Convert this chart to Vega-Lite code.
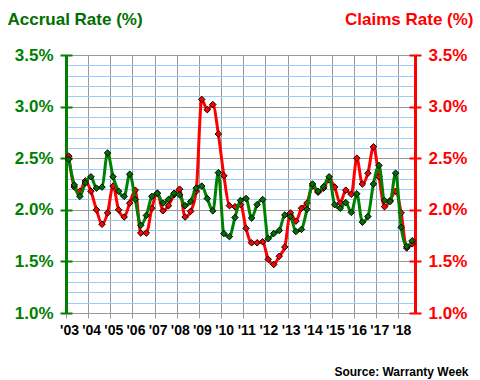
{
  "$schema": "https://vega.github.io/schema/vega-lite/v6.json",
  "width": 349,
  "height": 258,
  "autosize": {"type": "none"},
  "padding": {"left": 66, "top": 55, "right": 65, "bottom": 67},
  "background": "white",
  "config": {"view": {"stroke": null}, "font": "Liberation Sans"},
  "data": {"values": [
    {"t": 2003.125, "accrual": 2.49, "claims": 2.52},
    {"t": 2003.375, "accrual": 2.24, "claims": 2.22},
    {"t": 2003.625, "accrual": 2.13, "claims": 2.18},
    {"t": 2003.875, "accrual": 2.26, "claims": 2.28},
    {"t": 2004.125, "accrual": 2.32, "claims": 2.18},
    {"t": 2004.375, "accrual": 2.21, "claims": 2.00},
    {"t": 2004.625, "accrual": 2.22, "claims": 1.86},
    {"t": 2004.875, "accrual": 2.55, "claims": 1.97},
    {"t": 2005.125, "accrual": 2.32, "claims": 2.23},
    {"t": 2005.375, "accrual": 2.18, "claims": 2.00},
    {"t": 2005.625, "accrual": 2.13, "claims": 1.93},
    {"t": 2005.875, "accrual": 2.345, "claims": 2.065},
    {"t": 2006.125, "accrual": 2.10, "claims": 2.19},
    {"t": 2006.375, "accrual": 1.85, "claims": 1.775},
    {"t": 2006.625, "accrual": 1.945, "claims": 1.775},
    {"t": 2006.875, "accrual": 2.13, "claims": 2.015},
    {"t": 2007.125, "accrual": 2.16, "claims": 2.16},
    {"t": 2007.375, "accrual": 2.065, "claims": 1.99},
    {"t": 2007.625, "accrual": 2.10, "claims": 2.04},
    {"t": 2007.875, "accrual": 2.16, "claims": 2.145},
    {"t": 2008.125, "accrual": 2.145, "claims": 2.20},
    {"t": 2008.375, "accrual": 2.04, "claims": 1.93},
    {"t": 2008.625, "accrual": 2.08, "claims": 1.985},
    {"t": 2008.875, "accrual": 2.21, "claims": 2.18},
    {"t": 2009.125, "accrual": 2.23, "claims": 3.07},
    {"t": 2009.375, "accrual": 2.11, "claims": 2.97},
    {"t": 2009.625, "accrual": 1.99, "claims": 3.02},
    {"t": 2009.875, "accrual": 2.36, "claims": 2.735},
    {"t": 2010.125, "accrual": 1.77, "claims": 2.33},
    {"t": 2010.375, "accrual": 1.74, "claims": 2.04},
    {"t": 2010.625, "accrual": 1.925, "claims": 2.03},
    {"t": 2010.875, "accrual": 2.09, "claims": 2.05},
    {"t": 2011.125, "accrual": 2.11, "claims": 1.82},
    {"t": 2011.375, "accrual": 1.92, "claims": 1.68},
    {"t": 2011.625, "accrual": 2.05, "claims": 1.68},
    {"t": 2011.875, "accrual": 2.10, "claims": 1.69},
    {"t": 2012.125, "accrual": 1.72, "claims": 1.52},
    {"t": 2012.375, "accrual": 1.77, "claims": 1.47},
    {"t": 2012.625, "accrual": 1.80, "claims": 1.55},
    {"t": 2012.875, "accrual": 1.95, "claims": 1.64},
    {"t": 2013.125, "accrual": 1.935, "claims": 1.97},
    {"t": 2013.375, "accrual": 1.79, "claims": 1.89},
    {"t": 2013.625, "accrual": 1.81, "claims": 2.015},
    {"t": 2013.875, "accrual": 2.005, "claims": 2.065},
    {"t": 2014.125, "accrual": 2.25, "claims": 2.23},
    {"t": 2014.375, "accrual": 2.18, "claims": 2.17},
    {"t": 2014.625, "accrual": 2.225, "claims": 2.21},
    {"t": 2014.875, "accrual": 2.32, "claims": 2.29},
    {"t": 2015.125, "accrual": 2.05, "claims": 2.22},
    {"t": 2015.375, "accrual": 2.015, "claims": 2.065},
    {"t": 2015.625, "accrual": 2.07, "claims": 2.19},
    {"t": 2015.875, "accrual": 1.975, "claims": 2.15},
    {"t": 2016.125, "accrual": 2.155, "claims": 2.50},
    {"t": 2016.375, "accrual": 1.88, "claims": 2.25},
    {"t": 2016.625, "accrual": 1.935, "claims": 2.355},
    {"t": 2016.875, "accrual": 2.25, "claims": 2.61},
    {"t": 2017.125, "accrual": 2.43, "claims": 2.32},
    {"t": 2017.375, "accrual": 2.09, "claims": 2.03},
    {"t": 2017.625, "accrual": 2.08, "claims": 2.09},
    {"t": 2017.875, "accrual": 2.355, "claims": 2.18},
    {"t": 2018.125, "accrual": 1.83, "claims": 1.97},
    {"t": 2018.375, "accrual": 1.645, "claims": 1.63},
    {"t": 2018.625, "accrual": 1.70, "claims": 1.67}
  ]},
  "encoding": {
    "x": {
      "field": "t", "type": "quantitative",
      "scale": {"domain": [2003, 2018.75], "nice": false, "zero": false},
      "axis": {
        "values": [2003, 2004, 2005, 2006, 2007, 2008, 2009, 2010, 2011, 2012, 2013, 2014, 2015, 2016, 2017, 2018],
        "format": "d",
        "labelExpr": "\"'\" + substring(datum.label, 2)",
        "domain": false,
        "grid": true, "gridColor": "#999999", "gridWidth": 1,
        "ticks": true, "tickColor": "#999999", "tickSize": 5, "tickWidth": 1,
        "labelFont": "Liberation Sans", "labelFontSize": 14, "labelFontWeight": "bold", "labelColor": "black",
        "labelPadding": 5, "labelOffset": 3, "labelFlush": false, "labelOverlap": false,
        "title": "Source: Warranty Week",
        "titleX": 402, "titleY": 62, "titleAlign": "right", "titleBaseline": "alphabetic",
        "titleFont": "Liberation Sans", "titleFontSize": 12, "titleFontWeight": "bold", "titleColor": "black"
      }
    }
  },
  "layer": [
    {
      "mark": {"type": "line", "opacity": 0},
      "encoding": {
        "y": {
          "field": "claims", "type": "quantitative",
          "scale": {"domain": [1, 3.5], "nice": false, "zero": false},
          "axis": {
            "orient": "right", "offset": -6,
            "values": [1, 1.5, 2, 2.5, 3, 3.5],
            "labels": false, "grid": false, "domain": false,
            "ticks": true, "tickColor": "#FF0000", "tickSize": 6, "tickWidth": 2,
            "title": null
          }
        }
      }
    },
    {
      "mark": {"type": "line", "opacity": 0},
      "encoding": {
        "y": {
          "field": "accrual", "type": "quantitative",
          "scale": {"domain": [1, 3.5], "nice": false, "zero": false},
          "axis": {
            "orient": "left", "offset": -6,
            "values": [1, 1.5, 2, 2.5, 3, 3.5],
            "labels": false, "grid": false, "domain": false,
            "ticks": true, "tickColor": "#008000", "tickSize": 6, "tickWidth": 2,
            "title": null
          }
        }
      }
    },
    {
      "mark": {"type": "line", "color": "#FF0000", "strokeWidth": 3, "interpolate": "monotone",
        "point": {"shape": "diamond", "filled": true, "fill": "#FF0000", "stroke": "black", "strokeWidth": 1, "size": 42}},
      "encoding": {
        "y": {
          "field": "claims", "type": "quantitative",
          "scale": {"domain": [1, 3.5], "nice": false, "zero": false},
          "axis": {
            "orient": "right",
            "values": [1, 1.5, 2, 2.5, 3, 3.5],
            "labelExpr": "format(datum.value, '.1f') + '%'",
            "grid": false,
            "domain": true, "domainColor": "#FF0000", "domainWidth": 3,
            "ticks": true, "tickColor": "#FF0000", "tickSize": 6, "tickWidth": 2,
            "labelFont": "Liberation Sans", "labelFontSize": 17, "labelFontWeight": "bold", "labelColor": "#FF0000",
            "labelPadding": 7,
            "title": "Claims Rate (%)",
            "titleAngle": 0, "titleX": 58, "titleY": -31, "titleAlign": "right", "titleBaseline": "alphabetic",
            "titleFont": "Liberation Sans", "titleFontSize": 17, "titleFontWeight": "bold", "titleColor": "#FF0000"
          }
        }
      }
    },
    {
      "mark": {"type": "line", "color": "#008000", "strokeWidth": 3, "interpolate": "monotone",
        "point": {"shape": "diamond", "filled": true, "fill": "#007000", "stroke": "black", "strokeWidth": 1, "size": 42}},
      "encoding": {
        "y": {
          "field": "accrual", "type": "quantitative",
          "scale": {"domain": [1, 3.5], "nice": false, "zero": false},
          "axis": {
            "orient": "left",
            "values": [1, 1.1, 1.2, 1.3, 1.4, 1.5, 1.6, 1.7, 1.8, 1.9, 2, 2.1, 2.2, 2.3, 2.4, 2.5, 2.6, 2.7, 2.8, 2.9, 3, 3.1, 3.2, 3.3, 3.4, 3.5],
            "labelExpr": "abs(datum.value * 2 - round(datum.value * 2)) < 0.001 ? format(datum.value, '.1f') + '%' : ''",
            "grid": true,
            "gridColor": {"condition": {"test": "abs(datum.value * 2 - round(datum.value * 2)) < 0.001", "value": "#999999"}, "value": "#99CCFF"},
            "gridWidth": 1,
            "domain": true, "domainColor": "#008000", "domainWidth": 3,
            "ticks": true, "tickColor": "#008000", "tickSize": 6, "tickWidth": 2,
            "tickOpacity": {"condition": {"test": "abs(datum.value * 2 - round(datum.value * 2)) < 0.001", "value": 1}, "value": 0},
            "labelFont": "Liberation Sans", "labelFontSize": 17, "labelFontWeight": "bold", "labelColor": "#008000",
            "labelPadding": 7, "labelOverlap": false,
            "title": "Accrual Rate (%)",
            "titleAngle": 0, "titleX": -59, "titleY": -31, "titleAlign": "left", "titleBaseline": "alphabetic",
            "titleFont": "Liberation Sans", "titleFontSize": 17, "titleFontWeight": "bold", "titleColor": "#007000"
          }
        }
      }
    }
  ],
  "resolve": {"scale": {"y": "independent"}}
}
